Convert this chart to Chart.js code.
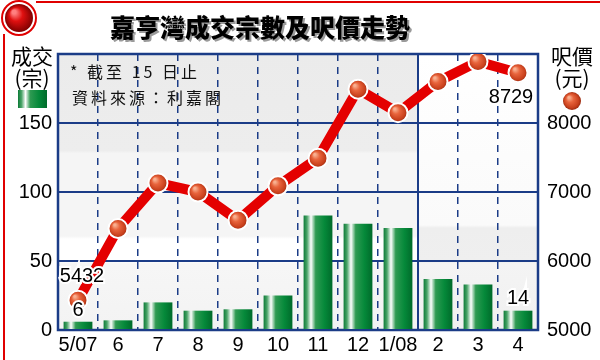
<!DOCTYPE html>
<html>
<head>
<meta charset="utf-8">
<script src="https://cdn.jsdelivr.net/npm/chart.js@4/dist/chart.umd.min.js"></script>
<style>
  html, body { margin: 0; padding: 0; background: #fff; }
  #wrap { width: 600px; height: 360px; }
</style>
</head>
<body>
<div id="wrap"><canvas id="c" width="600" height="360"></canvas></div>
<script>
// 月份
const months = ['5/07', '6', '7', '8', '9', '10', '11', '12', '1/08', '2', '3', '4'];
// 成交宗數
const deals = [6, 7, 20, 14, 15, 25, 83, 77, 74, 37, 33, 14];
// 呎價 (元)
const prices = [5432, 6470, 7130, 7000, 6590, 7090, 7490, 8490, 8150, 8600, 8890, 8729];
const dealTicks = [0, 50, 100, 150];
const priceTicks = [5000, 6000, 7000, 8000];

const BLUE = '#1b3c87';
const NUM_FONT = "'Liberation Sans', Arial, sans-serif";
const CJK_FONT = "'Noto Sans CJK TC', sans-serif";

function barGradient(ctx, x, w) {
  const g = ctx.createLinearGradient(x - w / 2, 0, x + w / 2, 0);
  g.addColorStop(0, '#0b7a36');
  g.addColorStop(0.12, '#4aa468');
  g.addColorStop(0.26, '#ffffff');
  g.addColorStop(0.42, '#2f9a52');
  g.addColorStop(0.72, '#05893a');
  g.addColorStop(1, '#006a2a');
  return g;
}

function ballGradient(ctx, x, y, r) {
  const g = ctx.createRadialGradient(x - r * 0.35, y - r * 0.4, r * 0.1, x, y, r);
  g.addColorStop(0, '#f8b090');
  g.addColorStop(0.35, '#e8643c');
  g.addColorStop(0.8, '#c8401c');
  g.addColorStop(1, '#9a2a10');
  return g;
}

function haloText(ctx, txt, x, y) {
  ctx.lineWidth = 4;
  ctx.strokeStyle = '#fff';
  ctx.strokeText(txt, x, y);
  ctx.fillStyle = '#000';
  ctx.fillText(txt, x, y);
}

const decor = {
  id: 'decor',
  beforeDraw(chart) {
    const { ctx, chartArea: a } = chart;
    const xs = chart.scales.x;
    const split = (xs.getPixelForValue(8) + xs.getPixelForValue(9)) / 2;
    ctx.save();
    // 左邊背景
    let g = ctx.createLinearGradient(0, a.top, 0, a.bottom);
    g.addColorStop(0, '#ebebeb');
    g.addColorStop(0.35, '#ededed');
    g.addColorStop(0.36, '#f5f5f5');
    g.addColorStop(0.66, '#f5f5f5');
    g.addColorStop(0.67, '#ffffff');
    g.addColorStop(0.75, '#ffffff');
    g.addColorStop(0.76, '#f6f6f6');
    g.addColorStop(1, '#f3f3f3');
    ctx.fillStyle = g;
    ctx.fillRect(a.left, a.top, split - a.left, a.bottom - a.top);
    // 右邊背景
    g = ctx.createLinearGradient(0, a.top, 0, a.bottom);
    g.addColorStop(0, '#ffffff');
    g.addColorStop(0.62, '#fafafa');
    g.addColorStop(0.63, '#eeeeee');
    g.addColorStop(0.75, '#efefef');
    g.addColorStop(0.76, '#f4f4f4');
    g.addColorStop(1, '#f0f0f0');
    ctx.fillStyle = g;
    ctx.fillRect(split, a.top, a.right - split, a.bottom - a.top);
    ctx.restore();
  },
  beforeDatasetsDraw(chart) {
    const { ctx, chartArea: a } = chart;
    const xs = chart.scales.x;
    const split = (xs.getPixelForValue(8) + xs.getPixelForValue(9)) / 2;
    ctx.save();
    ctx.strokeStyle = BLUE;
    ctx.lineWidth = 2;
    ctx.beginPath();
    ctx.moveTo(split, a.top);
    ctx.lineTo(split, a.bottom);
    ctx.stroke();
    ctx.lineWidth = 2.5;
    ctx.strokeRect(a.left, a.top, a.right - a.left, a.bottom - a.top);
    ctx.restore();
  },
  afterDraw(chart) {
    const { ctx } = chart;
    const xs = chart.scales.x, ys = chart.scales.y, yp = chart.scales.y1;
    ctx.save();

    // 外框紅線
    ctx.strokeStyle = '#e00000';
    ctx.lineWidth = 2;
    ctx.beginPath();
    ctx.moveTo(4, 360);
    ctx.lineTo(4, 34);
    ctx.moveTo(36, 2);
    ctx.lineTo(600, 2);
    ctx.stroke();
    // 左上角紅球
    ctx.beginPath();
    ctx.arc(19, 18, 17, 0, Math.PI * 2);
    ctx.fillStyle = '#fff';
    ctx.fill();
    ctx.stroke();
    ctx.beginPath();
    ctx.arc(19, 18, 14, 0, Math.PI * 2);
    const rg = ctx.createRadialGradient(14, 12, 2, 19, 18, 14);
    rg.addColorStop(0, '#ff8080');
    rg.addColorStop(0.4, '#e01010');
    rg.addColorStop(1, '#800000');
    ctx.fillStyle = rg;
    ctx.fill();

    // 標題
    ctx.font = `900 25px ${CJK_FONT}`;
    ctx.textAlign = 'center';
    ctx.textBaseline = 'middle';
    ctx.fillStyle = '#9a9a9a';
    ctx.fillText('嘉亨灣成交宗數及呎價走勢', 262, 29);
    ctx.fillStyle = '#000';
    ctx.fillText('嘉亨灣成交宗數及呎價走勢', 260, 27);

    // 軸標題
    ctx.font = `21px ${CJK_FONT}`;
    ctx.fillText('成交', 32, 56);
    ctx.fillText('(宗)', 32, 78);
    ctx.fillText('呎價', 572, 56);
    ctx.fillText('(元)', 572, 78);
    // 圖例
    ctx.fillStyle = barGradient(ctx, 32.5, 29);
    ctx.fillRect(18, 90, 29, 18);
    ctx.beginPath();
    ctx.arc(572, 101, 9, 0, Math.PI * 2);
    ctx.fillStyle = ballGradient(ctx, 572, 101, 9);
    ctx.fill();

    // 備註
    ctx.font = `16px ${CJK_FONT}`;
    ctx.textAlign = 'left';
    ctx.fillStyle = '#111';
    ctx.letterSpacing = '3px';
    ctx.fillText('* 截至 15 日止', 70, 72);
    ctx.fillText('資料來源：利嘉閣', 72, 98);
    ctx.letterSpacing = '0px';

    // 數據標籤
    ctx.font = `20px ${NUM_FONT}`;
    ctx.textAlign = 'center';
    const last = months.length - 1;
    haloText(ctx, String(prices[0]), xs.getPixelForValue(0) + 4, yp.getPixelForValue(prices[0]) - 24);
    haloText(ctx, String(deals[0]), xs.getPixelForValue(0), ys.getPixelForValue(deals[0]) - 11);
    haloText(ctx, String(prices[last]), xs.getPixelForValue(last) - 7, yp.getPixelForValue(prices[last]) + 25);
    haloText(ctx, String(deals[last]), xs.getPixelForValue(last), ys.getPixelForValue(deals[last]) - 12);
    ctx.restore();
  }
};

new Chart(document.getElementById('c'), {
  type: 'bar',
  data: {
    labels: months,
    datasets: [
      {
        type: 'line',
        label: '呎價',
        data: prices,
        yAxisID: 'y1',
        order: 0,
        borderColor: '#e40000',
        borderWidth: 10,
        tension: 0,
        pointRadius: 9.5,
        pointBorderWidth: 2,
        pointBorderColor: '#ffffff',
        pointBackgroundColor(c) {
          const ch = c.chart;
          if (!ch.chartArea || c.dataIndex === undefined) return '#d04a20';
          const x = ch.scales.x.getPixelForValue(c.dataIndex);
          const y = ch.scales.y1.getPixelForValue(prices[c.dataIndex]);
          return ballGradient(ch.ctx, x, y, 9.5);
        }
      },
      {
        type: 'bar',
        label: '成交',
        data: deals,
        yAxisID: 'y',
        order: 1,
        barPercentage: 0.72,
        categoryPercentage: 1,
        backgroundColor(c) {
          const ch = c.chart;
          if (!ch.chartArea || c.dataIndex === undefined) return '#078a3a';
          const x = ch.scales.x.getPixelForValue(c.dataIndex);
          return barGradient(ch.ctx, x, 29);
        }
      }
    ]
  },
  options: {
    responsive: false,
    animation: false,
    events: [],
    layout: { padding: { top: 54, left: 0, right: 0, bottom: 0 } },
    plugins: { legend: { display: false }, tooltip: { enabled: false }, title: { display: false } },
    scales: {
      x: {
        afterFit(s) { s.height = 30; },
        grid: { color: BLUE, lineWidth: 1.5, drawTicks: false, offset: true },
        border: { display: false, dash: [7, 6] },
        ticks: { color: '#000', font: { family: NUM_FONT, size: 20 }, padding: 3, autoSkip: false, maxRotation: 0 }
      },
      y: {
        position: 'left',
        min: 0,
        max: 200,
        afterFit(s) { s.width = 58; },
        afterBuildTicks(s) { s.ticks = dealTicks.concat([200]).map(v => ({ value: v })); },
        grid: { color: BLUE, lineWidth: 2, drawTicks: false },
        border: { display: false },
        ticks: {
          color: '#000', padding: 6, font: { family: NUM_FONT, size: 20 },
          callback: v => dealTicks.includes(v) ? String(v) : ''
        }
      },
      y1: {
        position: 'right',
        min: 5000,
        max: 9000,
        afterFit(s) { s.width = 62; },
        afterBuildTicks(s) { s.ticks = priceTicks.concat([9000]).map(v => ({ value: v })); },
        grid: { display: false, drawTicks: false },
        border: { display: false },
        ticks: {
          color: '#000', padding: 9, font: { family: NUM_FONT, size: 20 },
          callback: v => priceTicks.includes(v) ? String(v) : ''
        }
      }
    }
  },
  plugins: [decor]
});
</script>
</body>
</html>
